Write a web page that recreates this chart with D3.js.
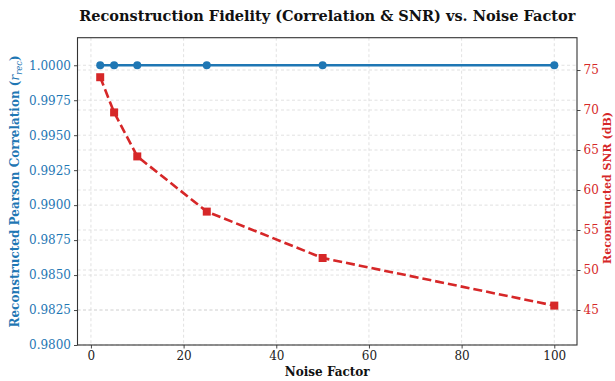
<!DOCTYPE html>
<html>
<head>
<meta charset="utf-8">
<script src="https://cdn.jsdelivr.net/npm/d3@7"></script>
<style>
  body { margin: 0; background: #fff; }
  text { font-family: "DejaVu Serif", serif; }
</style>
</head>
<body>
<div id="chart"></div>
<script>
// data
const noiseFactors = [2, 5, 10, 25, 50, 100];
const correlation = [1.0, 1.0, 1.0, 1.0, 1.0, 1.0];
const snrDb = [74.1, 69.7, 64.2, 57.3, 51.5, 45.55];
const xTicks = [0, 20, 40, 60, 80, 100];
const corrTicks = [0.98, 0.9825, 0.985, 0.9875, 0.99, 0.9925, 0.995, 0.9975, 1.0];
const snrTicks = [45, 50, 55, 60, 65, 70, 75];

const width = 615, height = 381;
const margin = { top: 37.7, right: 38, bottom: 36, left: 77.5 };
const blue = '#1f77b4', red = '#d62728';

const svg = d3.select('#chart').append('svg')
  .attr('width', width)
  .attr('height', height);

const x = d3.scaleLinear().domain([-2.9, 104.9]).range([margin.left, width - margin.right]);
const yL = d3.scaleLinear().domain([0.98, 1.00197]).range([height - margin.bottom, margin.top]);
const yR = d3.scaleLinear().domain([40.625, 79.04]).range([height - margin.bottom, margin.top]);

//@grid
const grid = svg.append('g').attr('stroke', '#d9d9d9').attr('stroke-width', 0.8)
  .attr('stroke-dasharray', '3,2.5').attr('fill', 'none');
xTicks.forEach(t => {
  grid.append('line').attr('x1', x(t)).attr('x2', x(t))
    .attr('y1', margin.top).attr('y2', height - margin.bottom);
});
corrTicks.forEach(t => {
  grid.append('line').attr('x1', margin.left).attr('x2', width - margin.right)
    .attr('y1', yL(t)).attr('y2', yL(t));
});
snrTicks.forEach(t => {
  grid.append('line').attr('x1', margin.left).attr('x2', width - margin.right)
    .attr('y1', yR(t)).attr('y2', yR(t));
});

//@axes
const xAxis = svg.append('g')
  .attr('transform', `translate(0,${height - margin.bottom})`)
  .call(d3.axisBottom(x).tickValues(xTicks).tickSize(3.5).tickPadding(3).tickFormat(d3.format('d')));
const leftAxis = svg.append('g')
  .attr('transform', `translate(${margin.left},0)`)
  .call(d3.axisLeft(yL).tickValues(corrTicks).tickSize(3.5).tickPadding(3).tickFormat(d3.format('.4f')));
const rightAxis = svg.append('g')
  .attr('transform', `translate(${width - margin.right},0)`)
  .call(d3.axisRight(yR).tickValues(snrTicks).tickSize(3.5).tickPadding(3).tickFormat(d3.format('d')));

[xAxis, leftAxis, rightAxis].forEach(a => {
  a.select('.domain').remove();
  a.selectAll('text').attr('font-size', 12).attr('font-family', '"DejaVu Serif", serif');
  a.selectAll('line').attr('stroke', '#333').attr('stroke-width', 0.9);
});
xAxis.selectAll('text').attr('fill', '#222');
leftAxis.selectAll('text').attr('fill', blue);
rightAxis.selectAll('text').attr('fill', red);

svg.append('rect')
  .attr('x', margin.left).attr('y', margin.top)
  .attr('width', width - margin.left - margin.right)
  .attr('height', height - margin.top - margin.bottom)
  .attr('fill', 'none').attr('stroke', '#333').attr('stroke-width', 1.1);

//@series: correlation
const pts = noiseFactors.map((n, i) => ({ n, c: correlation[i], s: snrDb[i] }));

svg.append('path').datum(pts)
  .attr('fill', 'none').attr('stroke', blue).attr('stroke-width', 2.7)
  .attr('d', d3.line().x(d => x(d.n)).y(d => yL(d.c)));
svg.selectAll('.dot').data(pts).enter().append('circle')
  .attr('class', 'dot')
  .attr('cx', d => x(d.n)).attr('cy', d => yL(d.c))
  .attr('r', 4).attr('fill', blue);

//@series: snr
svg.append('path').datum(pts)
  .attr('fill', 'none').attr('stroke', red).attr('stroke-width', 2.6)
  .attr('stroke-dasharray', '9,4')
  .attr('d', d3.line().x(d => x(d.n)).y(d => yR(d.s)));
svg.selectAll('.sq').data(pts).enter().append('rect')
  .attr('class', 'sq')
  .attr('x', d => x(d.n) - 4).attr('y', d => yR(d.s) - 4)
  .attr('width', 8).attr('height', 8).attr('fill', red);

//@labels
svg.append('text')
  .attr('x', (margin.left + width - margin.right) / 2).attr('y', 21)
  .attr('text-anchor', 'middle').attr('font-weight', 'bold').attr('font-size', 14.5)
  .attr('fill', '#111')
  .text('Reconstruction Fidelity (Correlation & SNR) vs. Noise Factor');

svg.append('text')
  .attr('x', (margin.left + width - margin.right) / 2).attr('y', 376)
  .attr('text-anchor', 'middle').attr('font-weight', 'bold').attr('font-size', 12)
  .attr('fill', '#111')
  .text('Noise Factor');

const ly = svg.append('text')
  .attr('transform', `translate(19,${(margin.top + height - margin.bottom) / 2}) rotate(-90)`)
  .attr('text-anchor', 'middle').attr('font-weight', 'bold').attr('font-size', 12)
  .attr('fill', blue);
ly.append('tspan').text('Reconstructed Pearson Correlation (');
ly.append('tspan').attr('font-style', 'italic').attr('font-weight', 'normal').text('r');
ly.append('tspan').attr('font-style', 'italic').attr('font-weight', 'normal')
  .attr('font-size', 8.5).attr('dy', 3).text('rec');
ly.append('tspan').attr('dy', -3).text(')');

svg.append('text')
  .attr('transform', `translate(611,188) rotate(-90)`)
  .attr('text-anchor', 'middle').attr('font-weight', 'bold').attr('font-size', 11)
  .attr('fill', red)
  .text('Reconstructed SNR (dB)');
</script>
</body>
</html>
